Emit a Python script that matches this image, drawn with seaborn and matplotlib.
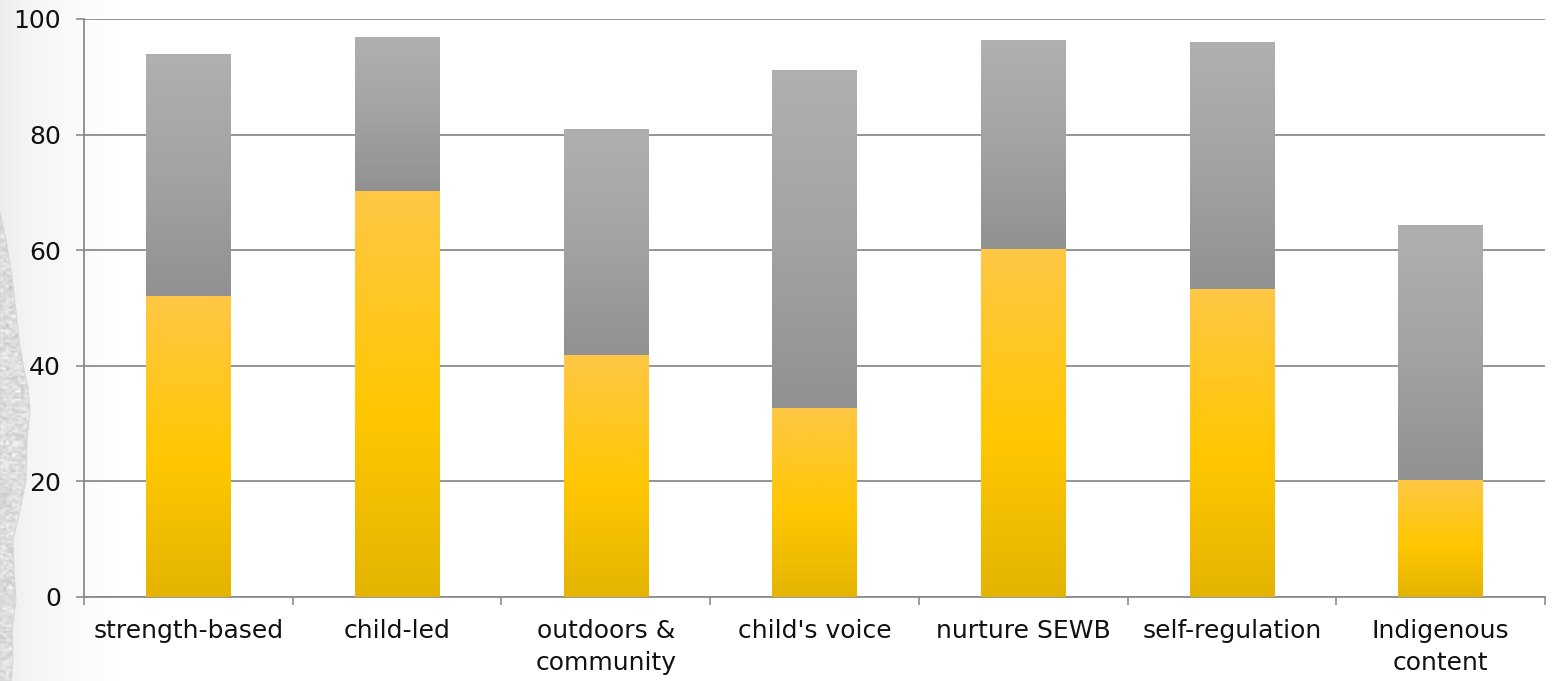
import numpy as np
import matplotlib
matplotlib.use("Agg")
import matplotlib.pyplot as plt
from matplotlib.colors import LinearSegmentedColormap
from matplotlib.patches import Polygon
import seaborn as sns

# Survey results per practice area (percent)
categories = ["strength-based", "child-led", "outdoors &\ncommunity", "child's voice",
              "nurture SEWB", "self-regulation", "Indigenous\ncontent"]
strong = [52.1, 70.2, 41.9, 32.7, 60.2, 53.3, 20.2]
partial = [41.8, 26.7, 39.1, 58.5, 36.2, 42.7, 44.2]
yticks = [0, 20, 40, 60, 80, 100]

sns.set_theme(style="white")
plt.rcParams["font.family"] = ["DejaVu Sans"]

W, H = 1552, 681
fig = plt.figure(figsize=(W / 100, H / 100), dpi=100)
fig.patch.set_facecolor("white")

# soft shaded margin with a torn-paper strip along the left edge (pixel coordinates)
deco = fig.add_axes([0, 0, 120 / W, 1])
deco.set_xlim(0, 120)
deco.set_ylim(H, 0)
deco.axis("off")
shade = np.linspace(0, 1, 300).reshape(1, -1) ** 0.7
shade_cmap = LinearSegmentedColormap.from_list("shade", ["#ececec", "#f7f7f7", "#ffffff"])
deco.imshow(shade, cmap=shade_cmap, extent=[0, 120, H, 0], aspect="auto", zorder=0,
            interpolation="bilinear")
rng = np.random.default_rng(7)
grain = rng.normal(0.87, 0.045, size=(230, 12)).clip(0.7, 0.98)
img = deco.imshow(grain, cmap="gray", vmin=0, vmax=1, extent=[0, 36, H, 200],
                  aspect="auto", interpolation="bilinear", zorder=1)
edge = [(0, 212), (6, 240), (11, 270), (16, 312), (19, 340), (24, 370), (28, 388),
        (30, 412), (27, 440), (26, 480), (20, 510), (13, 540), (14, 570), (16, 600),
        (12, 630), (13, 660), (11, 681), (0, 681)]
poly = Polygon(edge, closed=True, facecolor="none", edgecolor="#d6d6d6", lw=0.8, zorder=2)
deco.add_patch(poly)
img.set_clip_path(poly)

ax = fig.add_axes([84 / W, 1 - 597 / H, (1545 - 84) / W, (597 - 19) / H])
ax.set_facecolor("none")

sns.barplot(x=categories, y=strong, ax=ax, color="#ffc800", width=0.405,
            saturation=1, linewidth=0, zorder=3)
sns.barplot(x=categories, y=partial, bottom=strong, ax=ax, color="#a0a0a0",
            width=0.405, saturation=1, linewidth=0, zorder=3)

yellow_cmap = LinearSegmentedColormap.from_list(
    "yel", [(0.0, "#e4b400"), (0.45, "#ffc700"), (1.0, "#ffc745")])
grey_cmap = LinearSegmentedColormap.from_list(
    "gry", [(0.0, "#919191"), (0.5, "#a3a3a3"), (1.0, "#b0b0b0")])

n = len(categories)
grad = np.linspace(0, 1, 256).reshape(-1, 1)
for i, p in enumerate(ax.patches):
    cmap = yellow_cmap if i < n else grey_cmap
    x0, y0 = p.get_x(), p.get_y()
    w, h = p.get_width(), p.get_height()
    im = ax.imshow(grad, cmap=cmap, extent=[x0, x0 + w, y0, y0 + h], origin="lower",
                   aspect="auto", zorder=3, interpolation="bicubic")
    im.set_clip_path(p)
    p.set_facecolor("none")

ax.set_xlim(-0.5, n - 0.5)
ax.set_ylim(0, 100)
ax.set_yticks(yticks)
ax.yaxis.grid(True, color="#8c8c8c", lw=1.3, zorder=0)
ax.set_axisbelow(True)

for side in ["top", "right"]:
    ax.spines[side].set_visible(False)
for side in ["left", "bottom"]:
    ax.spines[side].set_color("#8c8c8c")
    ax.spines[side].set_linewidth(1.3)

ax.set_xticks(np.arange(n))
ax.set_xticklabels(categories, fontsize=18, color="#111111", linespacing=1.4)
ax.tick_params(axis="x", which="major", length=0, pad=16, bottom=True)
ax.set_xticks(np.arange(n + 1) - 0.5, minor=True)
ax.tick_params(axis="x", which="minor", length=6, width=1.2, color="#8c8c8c",
               direction="out", bottom=True)
ax.tick_params(axis="y", length=5.5, width=1.2, color="#8c8c8c", direction="out",
               labelsize=18, labelcolor="#111111", pad=11, left=True)
ax.set_xlabel("")
ax.set_ylabel("")

fig.savefig("out.png", dpi=100, facecolor="white")
